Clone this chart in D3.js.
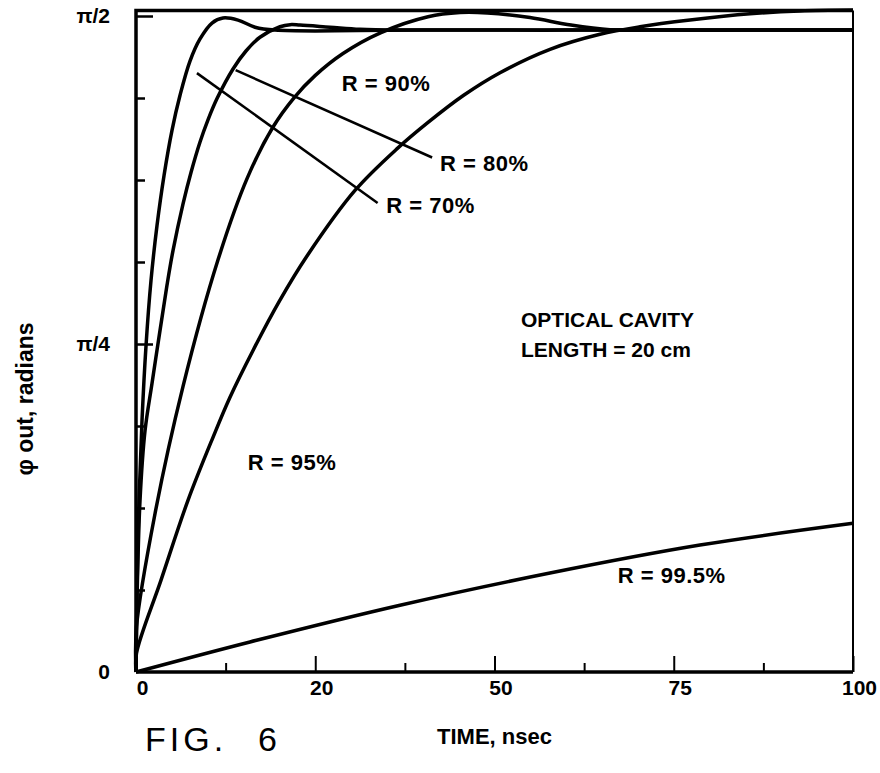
<!DOCTYPE html>
<html>
<head>
<meta charset="utf-8">
<script src="https://cdn.jsdelivr.net/npm/d3@7"></script>
<style>
  body { margin: 0; background: #fff; }
  svg text { font-family: "Liberation Sans", Arial, Helvetica, sans-serif; fill: #000; }
</style>
</head>
<body>
<div id="chart"></div>
<script>
const PI = Math.PI;

// time in nsec, phase in radians
const r70 = [[0, 0], [0.14, 0.196], [0.42, 0.411], [0.84, 0.603], [1.4, 0.782], [2.09, 0.937],
  [2.93, 1.069], [3.91, 1.189], [5.02, 1.297], [6.14, 1.381], [7.53, 1.463], [8.93, 1.516],
  [10.6, 1.554], [12.13, 1.566], [14.23, 1.561], [16.6, 1.544], [19.39, 1.537], [40, 1.537],
  [100, 1.537]];
const r80 = [[0, 0], [0.14, 0.172], [0.56, 0.411], [1.26, 0.578], [2.23, 0.691], [3.35, 0.818],
  [4.32, 0.926], [5.16, 1.009], [6.56, 1.121], [7.67, 1.196], [8.93, 1.269], [10.04, 1.322],
  [11.3, 1.373], [13.53, 1.444], [15.34, 1.487], [17.29, 1.52], [20.08, 1.545], [21.5, 1.55],
  [22.87, 1.549], [27.06, 1.544], [31.24, 1.539], [36.82, 1.537], [60, 1.537], [100, 1.537]];
const r90 = [[0, 0], [0.07, 0.108], [2.65, 0.379], [6.56, 0.684], [11.44, 0.987], [15.5, 1.182],
  [19.11, 1.305], [22.04, 1.375], [24.97, 1.428], [28.87, 1.481], [34.17, 1.531], [40.73, 1.569],
  [45.19, 1.579], [49, 1.578], [54.95, 1.567], [60.67, 1.549], [66.11, 1.538], [72, 1.537],
  [85, 1.537], [100, 1.537]];
const r95 = [[0, 0], [0.07, 0.045], [3.49, 0.22], [7.25, 0.411], [10.74, 0.562], [13.11, 0.658],
  [16.32, 0.77], [20, 0.888], [23.85, 0.996], [30.54, 1.153], [36.54, 1.255], [40.73, 1.316],
  [45.7, 1.381], [50.77, 1.435], [57.74, 1.491], [64.71, 1.527], [70.29, 1.545], [77.27, 1.561],
  [85.63, 1.576], [92.61, 1.583], [100, 1.585]];
const r995 = [[0, 0], [15.9, 0.072], [36.82, 0.16], [57.74, 0.237], [78.66, 0.304], [100, 0.356]];

const xMajor = [0, 25, 50, 75, 100];
const xMajorLabels = ['0', '20', '50', '75', '100'];
const xMinor = [12.5, 37.5, 62.5, 87.5];
const yTicks = [1, 2, 3, 4, 5, 6, 7, 8].map((k) => k * PI / 16);
const yLabelValues = [0, PI / 4, PI / 2];
const yLabels = ['0', 'π/4', 'π/2'];
const topBorder = 1.584;

// pointer lines: [from, to] in data units
const pointers = [
  { from: [8.5, 1.434], to: [33.7, 1.123] },
  { from: [13.9, 1.441], to: [41.3, 1.232] },
];
const curveLabels = [
  { text: 'R = 90%', at: [28.7, 1.405] },
  { text: 'R = 80%', at: [42.4, 1.213] },
  { text: 'R = 70%', at: [34.9, 1.113] },
  { text: 'R = 95%', at: [15.6, 0.498] },
  { text: 'R = 99.5%', at: [67.2, 0.227] },
];

const width = 880;
const height = 773;
const margin = { top: 16, right: 27, bottom: 101, left: 136 };
const innerWidth = width - margin.left - margin.right;
const innerHeight = height - margin.top - margin.bottom;

const xScale = d3.scaleLinear().domain([0, 100]).range([0, innerWidth]);
const yScale = d3.scaleLinear().domain([0, PI / 2]).range([innerHeight, 0]);

const svg = d3.select('#chart')
  .append('svg')
  .attr('width', width)
  .attr('height', height)
  .append('g')
  .attr('transform', `translate(${margin.left},${margin.top})`);

// inward ticks
svg.append('g')
  .attr('transform', `translate(0,${innerHeight})`)
  .call(d3.axisTop(xScale).tickValues(xMajor).tickSize(16).tickFormat(''))
  .call((g) => g.select('.domain').remove())
  .call((g) => g.selectAll('line').attr('stroke-width', 2));
svg.append('g')
  .attr('transform', `translate(0,${innerHeight})`)
  .call(d3.axisTop(xScale).tickValues(xMinor).tickSize(9).tickFormat(''))
  .call((g) => g.select('.domain').remove())
  .call((g) => g.selectAll('line').attr('stroke-width', 2));
svg.append('g')
  .call(d3.axisRight(yScale).tickValues(yTicks).tickSize(9).tickFormat(''))
  .call((g) => g.select('.domain').remove())
  .call((g) => g.selectAll('line').attr('stroke-width', 2.5)
    .filter((d) => Math.abs(d - PI / 4) < 1e-6 || Math.abs(d - PI / 2) < 1e-6)
    .attr('x2', 17));

// tick labels
svg.append('g')
  .attr('transform', `translate(0,${innerHeight})`)
  .call(d3.axisBottom(xScale).tickValues(xMajor).tickSize(0).tickPadding(8)
    .tickFormat((d, i) => xMajorLabels[i]))
  .call((g) => g.select('.domain').remove())
  .call((g) => g.selectAll('text')
    .attr('font-size', 21).attr('font-weight', 'bold')
    .attr('font-family', '"Liberation Sans", Arial, sans-serif')
    .attr('dx', 6));
svg.append('g')
  .call(d3.axisLeft(yScale).tickValues(yLabelValues).tickSize(0).tickPadding(26)
    .tickFormat((d, i) => yLabels[i]))
  .call((g) => g.select('.domain').remove())
  .call((g) => g.selectAll('text')
    .attr('font-size', 21).attr('font-weight', 'bold')
    .attr('font-family', '"Liberation Sans", Arial, sans-serif'));

// frame
const frame = d3.path();
frame.moveTo(xScale(0), yScale(0));
frame.lineTo(xScale(0), yScale(topBorder));
frame.lineTo(xScale(100), yScale(topBorder));
svg.append('path').attr('d', frame.toString())
  .attr('fill', 'none').attr('stroke', '#000').attr('stroke-width', 3.5);
svg.append('line')
  .attr('x1', xScale(0)).attr('x2', xScale(100))
  .attr('y1', yScale(0)).attr('y2', yScale(0))
  .attr('stroke', '#000').attr('stroke-width', 3.5);
svg.append('line')
  .attr('x1', xScale(100)).attr('x2', xScale(100))
  .attr('y1', yScale(topBorder)).attr('y2', yScale(0))
  .attr('stroke', '#000').attr('stroke-width', 2);

// curves
const line = d3.line()
  .x((d) => xScale(d[0]))
  .y((d) => yScale(d[1]))
  .curve(d3.curveCatmullRom.alpha(0.5));
svg.selectAll('.curve')
  .data([r70, r80, r90, r95, r995])
  .enter()
  .append('path')
  .attr('class', 'curve')
  .attr('fill', 'none')
  .attr('stroke', '#000')
  .attr('stroke-width', 3.5)
  .attr('stroke-linejoin', 'round')
  .attr('d', (d) => line(d));

// pointer lines
svg.selectAll('.pointer')
  .data(pointers)
  .enter()
  .append('line')
  .attr('class', 'pointer')
  .attr('x1', (d) => xScale(d.from[0]))
  .attr('y1', (d) => yScale(d.from[1]))
  .attr('x2', (d) => xScale(d.to[0]))
  .attr('y2', (d) => yScale(d.to[1]))
  .attr('stroke', '#000')
  .attr('stroke-width', 2.5);

svg.selectAll('.clabel')
  .data(curveLabels)
  .enter()
  .append('text')
  .attr('class', 'clabel')
  .attr('x', (d) => xScale(d.at[0]))
  .attr('y', (d) => yScale(d.at[1]))
  .attr('dominant-baseline', 'middle')
  .attr('font-size', 22)
  .attr('font-weight', 'bold')
  .attr('letter-spacing', 0.5)
  .text((d) => d.text);

const note = svg.append('text')
  .attr('x', xScale(53.7))
  .attr('y', yScale(0.826))
  .attr('font-size', 21)
  .attr('font-weight', 'bold');
note.append('tspan').attr('x', xScale(53.7)).text('OPTICAL CAVITY');
note.append('tspan').attr('x', xScale(53.7)).attr('dy', 30).text('LENGTH = 20 cm');

// axis titles
svg.append('text')
  .attr('transform', `translate(${-103},${innerHeight / 2 + 55}) rotate(-90)`)
  .attr('text-anchor', 'middle')
  .attr('font-size', 23)
  .attr('font-weight', 'bold')
  .text('φ out, radians');
svg.append('text')
  .attr('x', xScale(50))
  .attr('y', innerHeight + 72)
  .attr('text-anchor', 'middle')
  .attr('font-size', 22)
  .attr('font-weight', 'bold')
  .text('TIME, nsec');
const fig = svg.append('text')
  .attr('y', innerHeight + 79)
  .attr('font-size', 34)
  .attr('font-family', '"DejaVu Sans", sans-serif')
  .attr('font-weight', 200);
fig.append('tspan').attr('x', 9).attr('letter-spacing', 4).text('FIG.');
fig.append('tspan').attr('x', 122).text('6');
</script>
</body>
</html>
